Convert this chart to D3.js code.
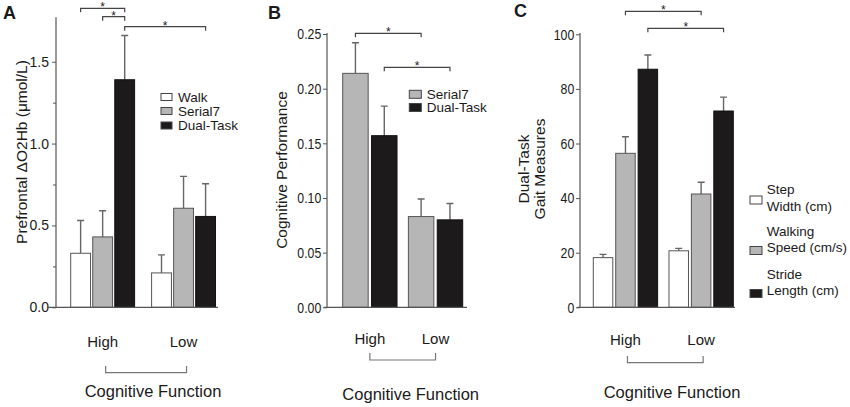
<!DOCTYPE html>
<html>
<head>
<meta charset="utf-8">
<script src="https://cdn.jsdelivr.net/npm/d3@7"></script>
<style>
  body { margin: 0; background: #fff; }
  text { font-family: "Liberation Sans", Arial, sans-serif; fill: #1a1a1a; }
</style>
</head>
<body>
<svg id="chart" width="850" height="407"></svg>
<script>
// ---- data ----
const groups = ['High', 'Low'];

// A: prefrontal oxygenation
const o2hbSeries = ['Walk', 'Serial7', 'Dual-Task'];
const o2hbMean = [[0.33, 0.43, 1.39], [0.21, 0.605, 0.555]];
const o2hbErr = [[0.20, 0.16, 0.27], [0.11, 0.195, 0.20]];
const o2hbTicks = [0, 0.5, 1.0, 1.5];
const o2hbMinorTicks = [0.25, 0.75, 1.25];
const o2hbSig = [
  [['High', 'Walk'], ['High', 'Dual-Task']],
  [['High', 'Serial7'], ['High', 'Dual-Task']],
  [['High', 'Dual-Task'], ['Low', 'Dual-Task']],
];

// B: cognitive performance
const cogSeries = ['Serial7', 'Dual-Task'];
const cogMean = [[0.214, 0.157], [0.083, 0.080]];
const cogErr = [[0.028, 0.027], [0.016, 0.015]];
const cogTicks = [0, 0.05, 0.10, 0.15, 0.20, 0.25];
const cogSig = [
  [['High', 'Serial7'], ['Low', 'Serial7']],
  [['High', 'Dual-Task'], ['Low', 'Dual-Task']],
];

// C: dual-task gait
const gaitSeries = ['Step Width (cm)', 'Walking Speed (cm/s)', 'Stride Length (cm)'];
const gaitLegend = [['Step', 'Width (cm)'], ['Walking', 'Speed (cm/s)'], ['Stride', 'Length (cm)']];
const gaitMean = [[18.2, 56.4, 87.2], [20.7, 41.5, 71.9]];
const gaitErr = [[1.2, 6.1, 5.2], [0.9, 4.3, 5.1]];
const gaitTicks = [0, 20, 40, 60, 80, 100];
const gaitSig = [
  [['High', 'Walking Speed (cm/s)'], ['Low', 'Walking Speed (cm/s)']],
  [['High', 'Stride Length (cm)'], ['Low', 'Stride Length (cm)']],
];

const xTitle = 'Cognitive Function';

// ---- drawing ----
const svg = d3.select('#chart');
const axisColour = '#555';
const fillWhite = '#ffffff';
const fillGrey = '#b6b6b6';
const fillBlack = '#1d1a1b';

function drawPanel(p) {
  const g = svg.append('g');

  const x0 = d3.scaleBand().domain(groups).range(p.xRange).paddingInner(p.groupPad);
  const x1 = d3.scaleBand().domain(p.series).range([0, x0.bandwidth()]).paddingInner(p.barPad);
  const y = d3.scaleLinear().domain(p.yDomain).range([p.y0, p.yTop]);
  const colour = d3.scaleOrdinal().domain(p.series).range(p.fills);

  const bars = [];
  groups.forEach((grp, gi) => p.series.forEach((s, si) => {
    bars.push({ group: grp, series: s, mean: p.means[gi][si], err: p.errs[gi][si] });
  }));
  const centre = (grp, s) => x0(grp) + x1(s) + x1.bandwidth() / 2;

  // error bars (upper only, T cap)
  const eb = g.append('g').attr('stroke', '#666').attr('stroke-width', 1.4).attr('fill', 'none');
  eb.selectAll('path').data(bars).join('path')
    .attr('d', (d) => {
      const cx = centre(d.group, d.series);
      const top = y(d.mean + d.err);
      return `M${cx},${y(d.mean)}V${top}M${cx - 3.5},${top}H${cx + 3.5}`;
    });

  // bars
  g.append('g').selectAll('rect').data(bars).join('rect')
    .attr('x', d => x0(d.group) + x1(d.series))
    .attr('y', d => y(d.mean))
    .attr('width', x1.bandwidth())
    .attr('height', d => y(0) - y(d.mean))
    .attr('fill', d => colour(d.series))
    .attr('stroke', d => (colour(d.series) === fillBlack ? '#111' : '#555'))
    .attr('stroke-width', 1);

  // y axis
  const yAxis = g.append('g')
    .attr('transform', `translate(${p.axisX},0)`)
    .call(d3.axisLeft(y).tickValues(p.ticks).tickFormat(p.fmt).tickSize(4).tickPadding(3))
    .call(a => a.select('.domain').remove());
  yAxis.selectAll('line').attr('stroke', axisColour);
  yAxis.selectAll('text')
    .attr('fill', '#222')
    .style('font-family', '"Liberation Sans", Arial, sans-serif')
    .style('font-size', `${p.tickFontSize}px`)
    .attr('transform', p.narrow ? 'scale(0.82,1)' : null);
  if (p.minorTicks) {
    g.append('g')
      .attr('transform', `translate(${p.axisX},0)`)
      .call(d3.axisLeft(y).tickValues(p.minorTicks).tickFormat('').tickSize(3))
      .call(a => a.select('.domain').remove())
      .selectAll('line').attr('stroke', axisColour);
  }
  g.append('line')
    .attr('x1', p.axisX).attr('x2', p.axisX)
    .attr('y1', y(0)).attr('y2', p.axisTop)
    .attr('stroke', axisColour).attr('stroke-width', 1.2);
  g.append('line')
    .attr('x1', p.baseX[0]).attr('x2', p.baseX[1])
    .attr('y1', y(0)).attr('y2', y(0))
    .attr('stroke', axisColour).attr('stroke-width', 1.2);

  // group labels and bracket below
  g.append('g').selectAll('text').data(groups).join('text')
    .attr('x', d => x0(d) + x0.bandwidth() / 2)
    .attr('y', p.groupLabelY)
    .attr('text-anchor', 'middle')
    .style('font-size', '15px')
    .text(d => d);
  const ga = x0(groups[0]) + x0.bandwidth() / 2 + p.bracketShift;
  const gb = x0(groups[1]) + x0.bandwidth() / 2 + p.bracketShift;
  g.append('path')
    .attr('d', `M${ga},${p.bracketTop}V${p.bracketBottom}H${gb}V${p.bracketTop}`)
    .attr('fill', 'none').attr('stroke', '#777').attr('stroke-width', 1.2);
  g.append('text')
    .attr('x', p.titleX).attr('y', p.titleY)
    .attr('text-anchor', 'middle')
    .style('font-size', '16.5px')
    .text(xTitle);

  // y label (one or two lines)
  p.yLabel.forEach((line, i) => {
    g.append('text')
      .attr('transform', `translate(${p.yLabelX[i]},${p.yLabelY}) rotate(-90)`)
      .attr('text-anchor', 'middle')
      .attr('dy', '0.35em')
      .style('font-size', '15.5px')
      .text(line);
  });

  // panel letter
  g.append('text')
    .attr('x', p.letterX).attr('y', p.letterY)
    .style('font-size', '18px').style('font-weight', 'bold')
    .text(p.letter);

  // significance brackets
  const sig = g.append('g');
  p.sig.forEach((pair, i) => {
    const xa = centre(pair[0][0], pair[0][1]);
    const xb = centre(pair[1][0], pair[1][1]);
    const ly = p.sigY[i];
    sig.append('path')
      .attr('d', `M${xa},${ly + 4}V${ly}H${xb}V${ly + 4}`)
      .attr('fill', 'none').attr('stroke', '#444').attr('stroke-width', 1.2);
    sig.append('text')
      .attr('x', (xa + xb) / 2).attr('y', ly + 3)
      .attr('text-anchor', 'middle')
      .style('font-size', '12px')
      .text('*');
  });

  // legend
  const lg = g.append('g');
  const lineGap = p.legendLineGap || 0;
  p.series.forEach((s, i) => {
    const lines = p.legendLines ? p.legendLines[i] : [s];
    const rowY = p.legendY[i];
    const boxY = rowY + (lines.length - 1) * lineGap + (p.boxShift ? p.boxShift[i] : 0);
    lg.append('rect')
      .attr('x', p.legendX).attr('y', boxY - p.boxH / 2)
      .attr('width', p.boxW).attr('height', p.boxH)
      .attr('fill', colour(s)).attr('stroke', '#444').attr('stroke-width', 1);
    lines.forEach((t, j) => {
      lg.append('text')
        .attr('x', p.legendTextX).attr('y', rowY + j * lineGap)
        .attr('dy', '0.35em')
        .style('font-size', '13.5px')
        .text(t);
    });
  });
}

drawPanel({
  letter: 'A', letterX: 3, letterY: 18.5,
  series: o2hbSeries, means: o2hbMean, errs: o2hbErr,
  fills: [fillWhite, fillGrey, fillBlack],
  xRange: [70.7, 215.5], groupPad: 0.21, barPad: 0.1,
  yDomain: [0, 1.75], y0: 307.3, yTop: 20.8,
  ticks: o2hbTicks, minorTicks: o2hbMinorTicks, fmt: d3.format('.1f'),
  tickFontSize: 14, narrow: false,
  axisX: 56, axisTop: 17.3, baseX: [47, 218],
  groupLabelY: 346.5, bracketTop: 366, bracketBottom: 372.7, bracketShift: 3,
  titleX: 153, titleY: 396.5,
  yLabel: ['Prefrontal \u0394O2Hb (\u03bcmol/L)'], yLabelX: [22], yLabelY: 152,
  sig: o2hbSig, sigY: [8.3, 16.7, 26.7],
  legendX: 161, legendTextX: 178, legendY: [97, 111, 125.5], boxW: 11, boxH: 7,
});

drawPanel({
  letter: 'B', letterX: 268, letterY: 18.5,
  series: cogSeries, means: cogMean, errs: cogErr,
  fills: [fillGrey, fillBlack],
  xRange: [342.7, 462.7], groupPad: 0.173, barPad: 0.117,
  yDomain: [0, 0.25], y0: 307.3, yTop: 34,
  ticks: cogTicks, fmt: d3.format('.2f'),
  tickFontSize: 15, narrow: true,
  axisX: 327, axisTop: 33, baseX: [324, 467],
  groupLabelY: 343.5, bracketTop: 353, bracketBottom: 360, bracketShift: 0,
  titleX: 410.7, titleY: 399.5,
  yLabel: ['Cognitive Performance'], yLabelX: [282], yLabelY: 170,
  sig: cogSig, sigY: [33.3, 67.3],
  legendX: 409.3, legendTextX: 426.7, legendY: [94.3, 107.5], boxW: 12, boxH: 8,
});

drawPanel({
  letter: 'C', letterX: 514, letterY: 17,
  series: gaitSeries, means: gaitMean, errs: gaitErr,
  fills: [fillWhite, fillGrey, fillBlack],
  xRange: [593.3, 733.3], groupPad: 0.15, barPad: 0.13,
  yDomain: [0, 100], y0: 307.3, yTop: 34.3,
  ticks: gaitTicks, fmt: d3.format('d'),
  tickFontSize: 15, narrow: true,
  axisX: 580, axisTop: 33, baseX: [577, 735],
  groupLabelY: 345, bracketTop: 356, bracketBottom: 362.7, bracketShift: 2,
  titleX: 672, titleY: 398,
  yLabel: ['Dual-Task', 'Gait Measures'], yLabelX: [524, 540], yLabelY: 169,
  sig: gaitSig, sigY: [11.3, 28.3],
  legendX: 750, legendTextX: 766.7, legendY: [189.5, 231, 274], legendLineGap: 16.5,
  legendLines: gaitLegend, boxW: 12, boxH: 8, boxShift: [-6, 3, 3],
});
</script>
</body>
</html>
